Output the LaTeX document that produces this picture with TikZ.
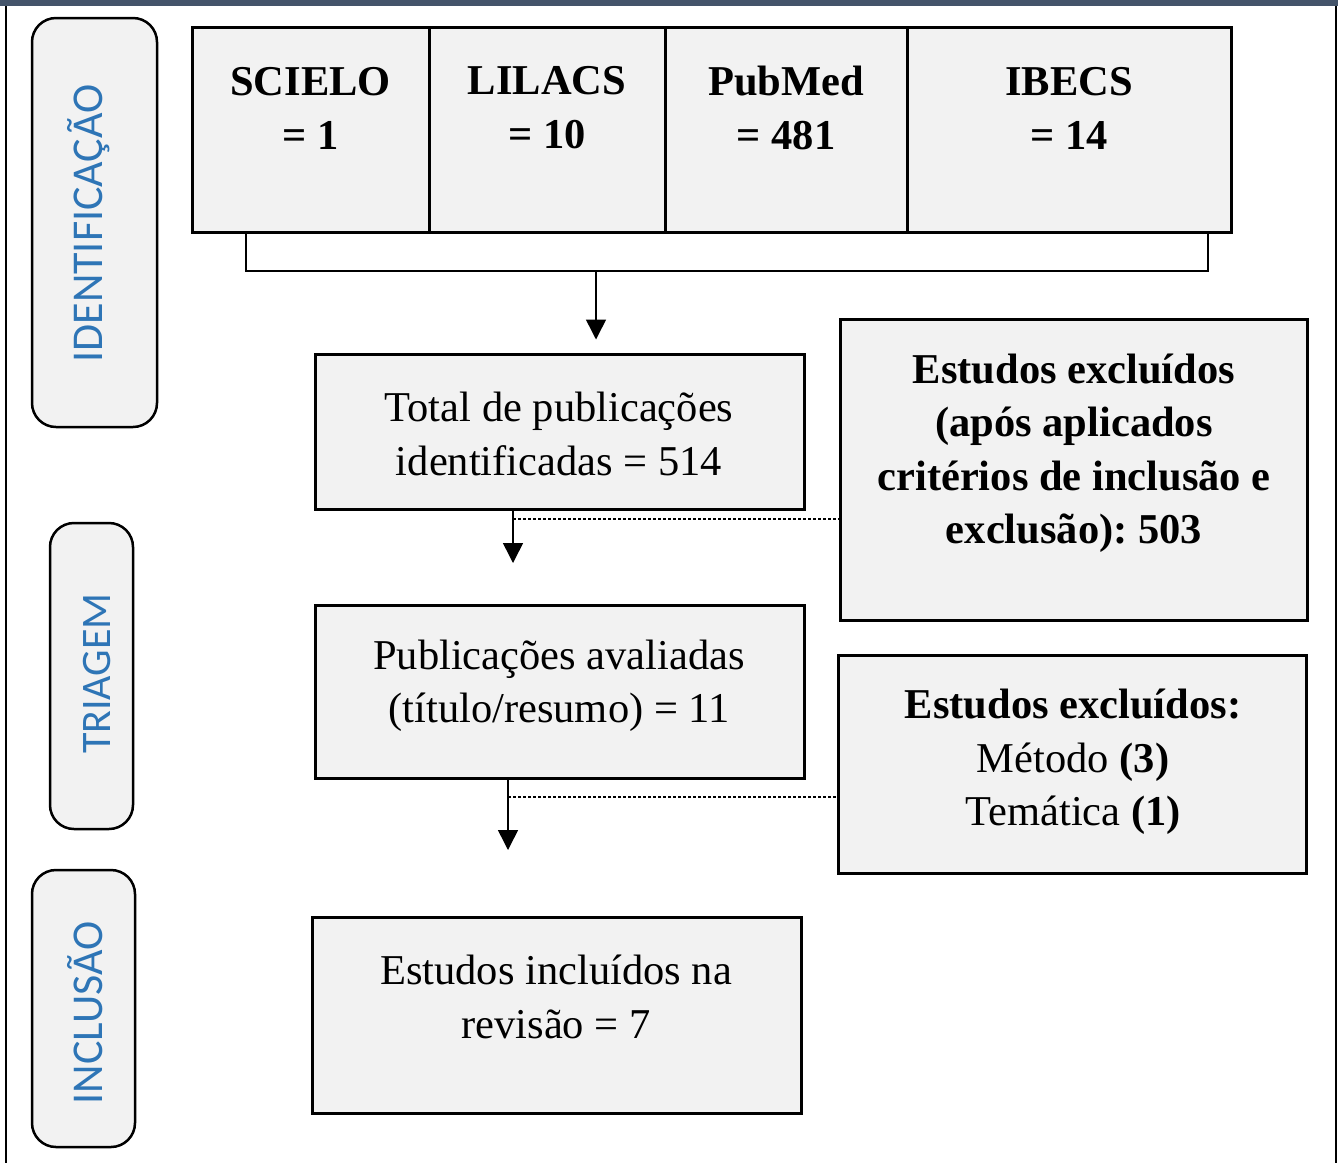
\documentclass[tikz,border=0pt]{standalone}
\usepackage{fontspec}
\setmainfont{Liberation Serif}
\newfontfamily\stagefont{Carlito}
\frenchspacing
\usetikzlibrary{arrows.meta}
\definecolor{boxgray}{RGB}{242,242,242}
\definecolor{stageblue}{RGB}{46,117,182}
\definecolor{barslate}{RGB}{68,84,106}
\tikzset{
  box/.style={draw=black, line width=3pt, fill=boxgray, inner sep=0pt},
  boxtext/.style={align=center, inner sep=0pt, font=\fontsize{42.5}{53.5}\selectfont},
  stage/.style={draw=black, line width=2.5pt, fill=boxgray, rounded corners=24pt, inner sep=0pt},
  stagetext/.style={rotate=90, anchor=base, inner sep=0pt, text=stageblue, font=\stagefont\fontsize{44}{50}\selectfont},
  link/.style={line width=1.5pt},
  flow/.style={line width=1.5pt, -{Triangle[width=20pt,length=20pt]}},
  gap/.style={line width=1.2pt, dash pattern=on 3pt off 2pt},
}
\begin{document}
\begin{tikzpicture}[x=1pt,y=-1pt]
    \useasboundingbox (0,0) rectangle (1338,1163);
    \fill[barslate] (0,0) rectangle (1338,6); % top bar and frame
    \draw[line width=1.5pt] (6,6) -- (6,1163);
    \draw[line width=1.5pt] (1336,6) -- (1336,1163);
    \node[stage, minimum width=125pt, minimum height=409pt] (ident) at (94.5,222.5) {};
    \node[stagetext] (ident-t) at (102,223.5) {IDENTIFICAÇÃO};
    \node[stage, minimum width=83pt, minimum height=306pt] (triag) at (91.5,676) {};
    \node[stagetext, font=\stagefont\fontsize{42}{50}\selectfont] (triag-t) at (110,673.5) {TRIAGEM};
    \node[stage, minimum width=103pt, minimum height=277pt] (incl) at (83.5,1008.5) {};
    \node[stagetext] (incl-t) at (102,1013) {INCLUSÃO};
    \foreach \nm/\xa/\xb/\txt in {scielo/192/429/{SCIELO\\= 1}, lilacs/429/665/{LILACS\\= 10},
        pubmed/665/907/{PubMed\\= 481}, ibecs/907/1231/{IBECS\\= 14}}{
    \node[box, minimum width={(\xb-\xa)*1pt}, minimum height=205pt] (\nm) at ({(\xa+\xb)/2},130) {};
    \node[boxtext, font=\fontsize{42.5}{54}\selectfont\bfseries] (\nm-t) at ({(\xa+\xb)/2},108) {\txt};
    }
    \node[box, minimum width=489pt, minimum height=155pt] (total) at (559.5,431.5) {};
    \node[boxtext] (total-t) at (559,434) {Total de publicações\\identificadas = 514};
    \node[box, minimum width=467pt, minimum height=301pt] (excl1) at (1073.5,469.5) {};
    \node[boxtext, font=\fontsize{42.5}{53.5}\selectfont\bfseries] (excl1-t) at (1074,453)
        {Estudos excluídos\\(após aplicados\\critérios de inclusão e\\exclusão): 503};
    \node[box, minimum width=489pt, minimum height=173pt] (pub) at (559.5,691.5) {};
    \node[boxtext] (pub-t) at (559,686) {Publicações avaliadas\\(título/resumo) = 11};
    \node[box, minimum width=468pt, minimum height=218pt] (excl2) at (1072,764) {};
    \node[boxtext] (excl2-t) at (1073,762) {\textbf{Estudos excluídos:}\\Método \textbf{(3)}\\Temática \textbf{(1)}};
    \node[box, minimum width=489pt, minimum height=196pt] (incl-b) at (556.5,1015) {};
    \node[boxtext] (incl-t) at (556,997) {Estudos incluídos na\\revisão = 7};
    \coordinate (brL) at (246,271);
    \coordinate (brR) at (1208,271);
    \coordinate (brM) at (596,271);
    \draw[link] (brL |- scielo.south) -- (brL) -- (brR) -- (brR |- ibecs.south);
    \draw[flow, shorten >=13pt] (brM) -- (brM |- total.north);
    \coordinate (a1) at (513,563);
    \coordinate (d1) at (513,519);
    \draw[flow] (a1 |- total.south) -- (a1);
    \draw[gap] (d1) -- (d1 -| excl1.west);
    \coordinate (a2) at (508,850);
    \coordinate (d2) at (508,797);
    \draw[flow] (a2 |- pub.south) -- (a2);
    \draw[gap] (d2) -- (d2 -| excl2.west);
\end{tikzpicture}
\end{document}
